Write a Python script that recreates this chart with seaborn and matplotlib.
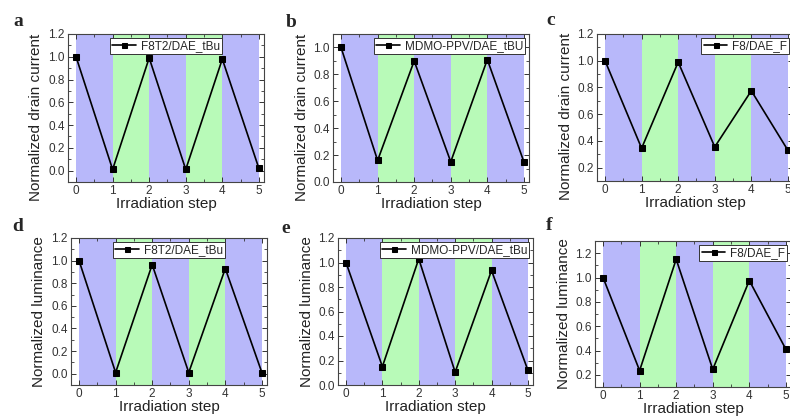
import matplotlib
matplotlib.use("Agg")
import matplotlib.pyplot as plt
import seaborn as sns
import pandas as pd
from matplotlib.ticker import MultipleLocator

# Data
steps = [0, 1, 2, 3, 4, 5]
f8t2_current = [1.0, 0.01, 0.99, 0.01, 0.98, 0.02]
mdmo_current = [1.0, 0.16, 0.90, 0.15, 0.91, 0.15]
f8_current = [1.0, 0.345, 0.99, 0.355, 0.775, 0.33]
f8t2_lum = [1.0, 0.01, 0.965, 0.01, 0.93, 0.01]
mdmo_lum = [1.0, 0.15, 1.03, 0.105, 0.935, 0.12]
f8_lum = [1.0, 0.235, 1.15, 0.245, 0.975, 0.41]

labels = ["F8T2/DAE_tBu", "MDMO-PPV/DAE_tBU", "F8/DAE_F",
          "F8T2/DAE_tBu", "MDMO-PPV/DAE_tBu", "F8/DAE_F"]
panel_letters = ["a", "b", "c", "d", "e", "f"]
series = [f8t2_current, mdmo_current, f8_current, f8t2_lum, mdmo_lum, f8_lum]
ylabels = ["Normalized drain current"] * 3 + ["Normalized luminance"] * 3
ylims = [(-0.1, 1.2), (0.0, 1.1), (0.1, 1.2), (-0.1, 1.2), (0.0, 1.2), (0.1, 1.3)]
legend_locs = ["upper center", "upper right", "upper right",
               "upper center", "upper right", "upper right"]

# irradiation bands: blue (UV) / green (visible)
bands = [(0, 1, "#b8b8fa"), (1, 2, "#b8fab8"), (2, 3, "#b8b8fa"),
         (3, 4, "#b8fab8"), (4, 5, "#b8b8fa")]

sns.set_style("ticks")
plt.rcParams["font.family"] = ["Liberation Sans", "DejaVu Sans"]

W, H = 790, 418
fig = plt.figure(figsize=(W / 100, H / 100), dpi=100)

# axes boxes in pixels: left, top, right, bottom
boxes = [(68, 34, 264, 182), (333, 34, 529, 182), (597, 34, 793, 181),
         (71, 238, 267, 385), (338, 238, 533, 385), (595, 241, 791, 387)]
letter_pos = [(13, 26), (286, 27), (546, 25), (12, 231), (281, 233), (546, 230)]
ylabel_ys = [0.44, 0.44, 0.44, 0.5, 0.5, 0.5]

for i in range(6):
    l, t, r, b = boxes[i]
    ax = fig.add_axes([l / W, 1 - b / H, (r - l) / W, (b - t) / H])

    for x0, x1, c in bands:
        ax.axvspan(x0, x1, color=c, lw=0, zorder=0)

    df = pd.DataFrame({"step": steps, "value": series[i]})
    sns.lineplot(data=df, x="step", y="value", ax=ax, color="black", lw=1.2,
                 marker="s", markersize=4.5, markeredgecolor="black",
                 label=labels[i], zorder=3)

    ax.set_xlim(-0.22, 5.14)
    ax.set_ylim(*ylims[i])
    ax.xaxis.set_major_locator(MultipleLocator(1))
    ax.xaxis.set_minor_locator(MultipleLocator(0.5))
    ax.yaxis.set_major_locator(MultipleLocator(0.2))
    ax.yaxis.set_minor_locator(MultipleLocator(0.1))
    ax.tick_params(which="both", direction="in", top=True, right=True,
                   labelsize=8.5, colors="#333333", labelcolor="#333333", pad=2.5)
    ax.tick_params(which="major", length=3.5, width=0.7)
    ax.tick_params(which="minor", length=2, width=0.6)
    for s in ax.spines.values():
        s.set_linewidth(0.8)
        s.set_color("#444444")

    ax.set_xlabel("Irradiation step", fontsize=11, color="#222222", labelpad=0)
    ax.set_ylabel(ylabels[i], fontsize=11, color="#222222")
    ax.yaxis.set_label_coords(-0.125, ylabel_ys[i])

    leg = ax.legend(loc=legend_locs[i], fontsize=8.5, frameon=True,
                    fancybox=False, framealpha=1, edgecolor="#333333",
                    borderaxespad=0.3, borderpad=0.2, handlelength=2.0,
                    handletextpad=0.4, markerscale=0.8)
    leg.get_frame().set_linewidth(0.7)

    lx, ly = letter_pos[i]
    fig.text(lx / W, 1 - ly / H, panel_letters[i], fontsize=14,
             fontweight="bold", family=["Liberation Serif", "DejaVu Serif"])

fig.savefig("out.png", dpi=100)
